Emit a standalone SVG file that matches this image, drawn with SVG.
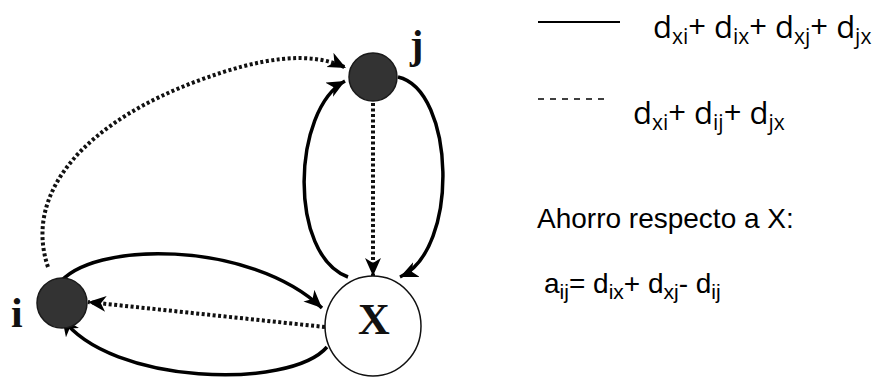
<svg xmlns="http://www.w3.org/2000/svg" width="872" height="379" viewBox="0 0 872 379">
<style>
.solid{fill:none;stroke:#000;stroke-width:3.5}
.dot{fill:none;stroke:#111;stroke-width:4;stroke-dasharray:3 2.5}
.node{fill:#333;stroke:#1a1a1a;stroke-width:1.5}
.lbl{font-family:"Liberation Serif","Times New Roman",serif;font-weight:bold;fill:#111}
.leg{font-family:"Open Sans","Noto Sans",sans-serif;font-size:31px;fill:#000}
.ar{font-family:"Liberation Sans",Arial,sans-serif;font-size:28px;fill:#000}
.sub{font-size:21px}
</style>
<defs>
<marker id="ah" markerWidth="20" markerHeight="18" refX="18" refY="8" orient="auto" markerUnits="userSpaceOnUse">
<path d="M0,0 L18,8 L0,16 L5,8 z" fill="#000"/>
</marker>
</defs>
<rect width="872" height="379" fill="#fff"/>
<g id="connectors">
<path class="dot" d="M48,267 C22,190 90,120 200,80 C260,58 310,50 346,68" marker-end="url(#ah)"/>
<path class="solid" d="M348,277 C288,255 292,110 345,81" marker-end="url(#ah)"/>
<path class="solid" d="M398,77 C455,90 460,250 400,277" marker-end="url(#ah)"/>
<path class="dot" d="M373,103 L373,276" marker-end="url(#ah)"/>
<path class="solid" d="M58,285 C90,240 250,240 322,308" marker-end="url(#ah)"/>
<path class="dot" d="M325,327 L88,302" marker-end="url(#ah)"/>
<path class="solid" d="M327,347 C290,390 110,385 62,318" marker-end="url(#ah)"/>
</g>
<g id="node-j">
<circle class="node" cx="373" cy="77" r="24"/>
<text class="lbl" x="410" y="58" font-size="40">j</text>
</g>
<g id="node-i">
<circle class="node" cx="62" cy="303" r="25"/>
<text class="lbl" x="11" y="327" font-size="42">i</text>
</g>
<g id="node-x">
<ellipse cx="373" cy="326" rx="48" ry="50" fill="#fff" stroke="#111" stroke-width="1.5"/>
<text class="lbl" x="374" y="334" font-size="44" text-anchor="middle">X</text>
</g>
<g id="legend">
<line x1="538" y1="22" x2="620" y2="22" stroke="#000" stroke-width="2"/>
<text class="leg" y="38"><tspan x="653">d</tspan><tspan class="sub" dy="6">xi</tspan><tspan dy="-6">+ d</tspan><tspan class="sub" dy="6">ix</tspan><tspan dy="-6">+ d</tspan><tspan class="sub" dy="6">xj</tspan><tspan dy="-6">+ d</tspan><tspan class="sub" dy="6">jx</tspan></text>
<line x1="538" y1="99" x2="610" y2="99" stroke="#000" stroke-width="1.6" stroke-dasharray="6 6"/>
<text class="leg" y="124"><tspan x="633">d</tspan><tspan class="sub" dy="6">xi</tspan><tspan dy="-6">+ d</tspan><tspan class="sub" dy="6">ij</tspan><tspan dy="-6">+ d</tspan><tspan class="sub" dy="6">jx</tspan></text>
<text class="ar" x="537" y="228">Ahorro respecto a X:</text>
<text class="ar" y="293" font-size="32"><tspan x="544">a</tspan><tspan class="sub" font-size="21" dy="6">ij</tspan><tspan dy="-6">= d</tspan><tspan class="sub" font-size="21" dy="6">ix</tspan><tspan dy="-6">+ d</tspan><tspan class="sub" font-size="21" dy="6">xj</tspan><tspan dy="-6">- d</tspan><tspan class="sub" font-size="21" dy="6">ij</tspan></text>
</g>
</svg>
